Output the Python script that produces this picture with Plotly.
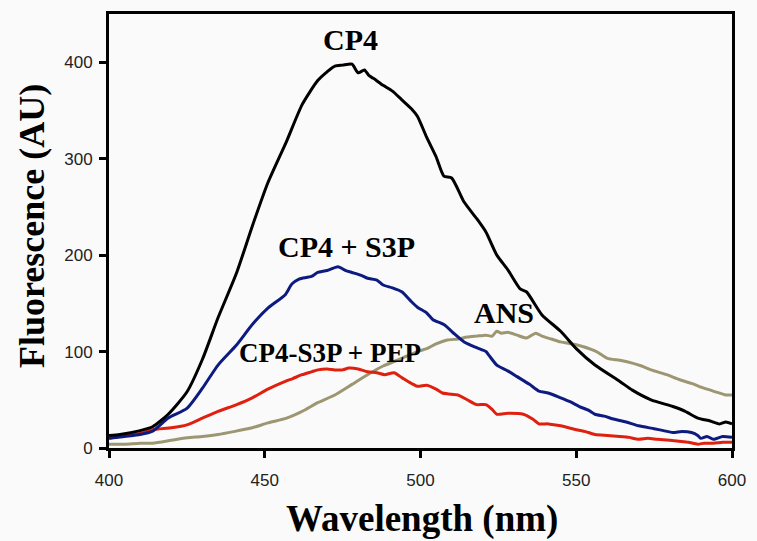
import plotly.graph_objects as go

# Emission spectra (wavelength in nm, fluorescence in AU)
cp4_wl = [400, 403.5, 410, 414, 419, 425, 430, 435, 441, 446, 451, 457, 462, 467, 470, 472.5,
          475, 478, 480, 482, 483.5, 485, 488, 491, 494, 497, 499, 502, 505, 507.5, 510, 514,
          518, 521, 524.5, 528, 532, 534, 539, 545, 550, 556, 564, 568, 574, 581, 585, 589,
          593, 596, 598, 600]
cp4_val = [13, 14, 18, 22, 35, 58, 92, 135, 182, 230, 275, 318, 356, 381, 390, 396,
           397, 398, 389, 392, 386, 383, 376, 370, 361, 352, 344, 322, 302, 282, 280, 255,
           238, 224, 200, 185, 165, 162, 138, 121, 103, 86, 69, 60, 50, 43, 38, 31,
           28, 25, 27, 25]

s3p_wl = [400, 405, 410, 414, 419, 425, 430, 435, 441, 446, 451, 456.6, 458.7, 461, 462, 465,
          467, 470, 473.5, 476, 478, 481, 483, 486, 488, 491, 494, 497, 499, 502, 504, 507.5,
          511, 514, 518, 521, 522, 524.5, 528, 531, 535, 538, 541, 545, 548, 551, 554, 556,
          559, 562, 566, 570, 575, 578, 581, 584, 587, 589, 590, 592, 594, 597, 600]
s3p_val = [10, 12, 14, 17.5, 31, 41, 62, 86, 107, 128, 145, 159, 170, 175, 176, 178,
           182, 184, 188, 184, 182, 179, 176, 174, 169, 166, 162, 152, 146, 140, 133, 128,
           118, 110, 104, 100, 96, 86, 80, 74, 66, 59, 57, 52, 48, 43, 39, 35,
           33, 30, 27, 23, 20, 18, 16, 17, 16, 13, 10, 12, 9, 12, 11]

pep_wl = [400, 405, 410, 414, 420, 425, 430, 435, 441, 446, 451, 456.6, 459, 462, 465, 467,
          470, 472.5, 475, 477, 480, 483, 486, 488.5, 491.5, 494, 496, 499, 502, 505, 507,
          509, 512, 515, 518, 521, 523, 524.5, 528, 533, 536, 538, 541, 545, 550, 553, 556,
          560, 564, 567, 570, 573, 576, 580, 583, 586, 589, 591, 594, 597, 600]
pep_val = [10, 13, 15, 19, 21, 24, 31, 38, 45, 52, 61, 69, 72, 76, 79, 81,
           82, 81, 81, 83, 82, 79, 78, 76, 78, 73, 69, 64, 65, 61, 57,
           56, 55, 50, 45, 45, 40, 35, 36, 35, 30, 25, 25, 23, 19, 17, 14,
           13, 12, 11, 9, 10, 9, 8, 7, 6, 4, 5, 5, 6, 6]

ans_wl = [400, 405, 410, 414, 420, 425, 430, 435, 440, 446, 451, 457, 462, 467, 472.5, 478,
          483, 488, 494, 499, 502, 505, 508.6, 512, 515, 518, 521, 523, 524.5, 526, 528, 531,
          534, 537, 539, 542, 545, 550, 555, 557, 560, 564, 568, 571, 574, 579, 583, 587,
          591, 595, 598, 600]
ans_val = [4, 4, 5, 5, 8, 10.6, 12, 14, 17, 21, 26, 31, 38, 47, 55, 66,
           76, 85, 93, 100, 103, 108, 112, 113, 115, 116, 117, 116, 121, 119, 120, 117,
           114, 119, 116, 113, 110, 107, 102, 99, 93, 91, 88, 85, 81, 76, 71, 67,
           62, 58, 55, 55]

x_ticks = [400, 450, 500, 550, 600]
y_ticks = [0, 100, 200, 300, 400]

series = [
    ("ANS", ans_wl, ans_val, "#9c9672"),
    ("CP4-S3P + PEP", pep_wl, pep_val, "#e0200f"),
    ("CP4 + S3P", s3p_wl, s3p_val, "#0d1b80"),
    ("CP4", cp4_wl, cp4_val, "#000000"),
]

fig = go.Figure()
for name, wl, val, color in series:
    fig.add_trace(go.Scatter(x=wl, y=val, mode="lines", name=name,
                             line=dict(color=color, width=3, shape="spline", smoothing=0.6)))

serif = "Times New Roman, Liberation Serif, serif"
labels = [
    ("CP4", 477.4, 424, 30),
    ("CP4 + S3P", 476.4, 209, 30),
    ("CP4-S3P + PEP", 471, 99, 27),
    ("ANS", 526.8, 140, 30),
]
for text, x, y, size in labels:
    fig.add_annotation(x=x, y=y, xref="x", yref="y", text=f"<b>{text}</b>",
                       showarrow=False, font=dict(family=serif, size=size, color="black"))

fig.add_annotation(x=0.502, y=-0.163, xref="paper", yref="paper",
                   xanchor="center", yanchor="middle",
                   text="<b>Wavelength (nm)</b>", showarrow=False,
                   font=dict(family=serif, size=37, color="black"))
fig.add_annotation(x=-0.124, y=0.511, xref="paper", yref="paper",
                   xanchor="center", yanchor="middle",
                   text="<b>Fluorescence (AU)</b>", showarrow=False, textangle=-90,
                   font=dict(family=serif, size=36, color="black"))

axis_common = dict(showline=True, linecolor="black", linewidth=3, mirror=True,
                   ticks="outside", tickcolor="black", tickwidth=3, ticklen=7,
                   showgrid=False, zeroline=False,
                   tickfont=dict(family="Arial, Liberation Sans, sans-serif", size=17,
                                 color="#222222"))

fig.update_xaxes(range=[400, 600], tickvals=x_ticks, ticklabelstandoff=8, **axis_common)
fig.update_yaxes(range=[0, 450], tickvals=y_ticks, ticklabelstandoff=3, **axis_common)

fig.update_layout(
    width=757, height=541,
    margin=dict(l=109, r=20, t=11, b=93),
    paper_bgcolor="#fafafa", plot_bgcolor="#fafafa",
    showlegend=False,
)

fig.write_html("out.html")
